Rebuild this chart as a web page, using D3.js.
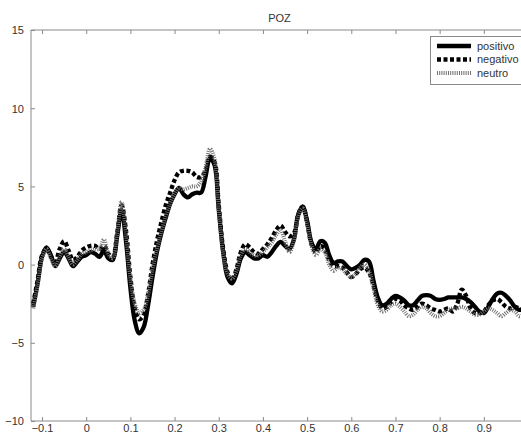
<!DOCTYPE html>
<html><head><meta charset="utf-8">
<script src="https://cdn.jsdelivr.net/npm/d3@7"></script>
<style>body{margin:0;background:#fff}svg{display:block}</style>
</head><body><svg id="c" width="521" height="436"></svg>
<script>
const title = "POZ";
const seriesNames = ["positivo", "negativo", "neutro"];
const xTicks = [-0.1, 0, 0.1, 0.2, 0.3, 0.4, 0.5, 0.6, 0.7, 0.8, 0.9];
const yTicks = [-10, -5, 0, 5, 10, 15];
const times = [-0.12,-0.11,-0.10,-0.09,-0.08,-0.07,-0.06,-0.05,-0.04,-0.03,-0.02,-0.01,
 0.00,0.01,0.02,0.03,0.04,0.05,0.06,0.07,0.08,0.09,0.10,0.11,0.12,0.13,0.14,0.15,0.16,0.17,0.18,0.19,
 0.20,0.21,0.22,0.23,0.24,0.25,0.26,0.27,0.28,0.29,0.30,0.31,0.32,0.33,0.34,0.35,0.36,0.37,0.38,0.39,
 0.40,0.41,0.42,0.43,0.44,0.45,0.46,0.47,0.48,0.49,0.50,0.51,0.52,0.53,0.54,0.55,0.56,0.57,0.58,0.59,
 0.60,0.61,0.62,0.63,0.64,0.65,0.66,0.67,0.68,0.69,0.70,0.71,0.72,0.73,0.74,0.75,0.76,0.77,0.78,0.79,
 0.80,0.81,0.82,0.83,0.84,0.85,0.86,0.87,0.88,0.89,0.90,0.91,0.92,0.93,0.94,0.95,0.96,0.97,0.98,0.99];
const positivo = [-2.7,-1.2,0.5,1.1,0.6,-0.1,0.4,0.8,0.4,-0.1,0.2,0.5,
 0.6,0.8,0.7,0.5,0.9,0.4,0.3,1.8,3.5,1.5,-1.5,-3.6,-4.4,-4.0,-2.6,-0.8,0.8,2.0,3.0,3.9,
 4.5,4.9,4.5,4.3,4.5,4.6,4.6,5.6,6.8,6.4,3.5,0.8,-0.8,-1.2,-0.6,0.4,0.8,0.6,0.4,0.4,
 0.6,0.5,0.8,1.2,1.45,1.2,1.0,1.6,3.2,3.7,2.8,1.4,1.0,1.5,1.4,0.6,0.1,0.2,0.2,-0.1,
 -0.3,-0.2,0.0,0.3,0.2,-1.0,-2.1,-2.6,-2.5,-2.2,-2.0,-2.1,-2.3,-2.6,-2.6,-2.3,-2.0,-1.95,-2.0,-2.2,
 -2.25,-2.2,-2.1,-2.1,-2.1,-2.1,-2.2,-2.4,-2.7,-3.0,-3.1,-2.7,-2.2,-1.85,-1.8,-2.0,-2.3,-2.7,-2.9,-2.8];
const negativo = [-2.5,-1.0,0.6,1.0,0.5,0.2,1.0,1.5,0.9,0.3,0.5,0.9,
 1.1,1.2,1.2,1.0,1.2,0.7,0.5,2.0,3.8,2.2,-0.8,-2.8,-3.5,-3.2,-1.9,0.0,1.5,2.7,3.8,4.6,
 5.4,5.9,6.0,6.0,5.9,5.6,5.6,6.0,6.9,6.6,3.8,1.0,-0.5,-1.0,-0.3,0.8,1.3,1.1,0.8,0.7,
 1.0,1.3,1.7,2.2,2.5,2.1,1.8,2.0,3.2,3.7,2.7,1.3,0.8,1.2,1.0,0.3,-0.1,-0.1,-0.2,-0.5,
 -0.8,-0.6,-0.3,-0.2,-0.5,-1.3,-2.3,-2.8,-2.7,-2.4,-2.2,-2.3,-2.6,-2.8,-2.9,-2.7,-2.5,-2.6,-2.8,-2.9,
 -3.0,-2.9,-2.8,-3.0,-2.5,-1.6,-2.0,-2.8,-3.1,-3.1,-3.0,-2.6,-2.3,-2.2,-2.4,-2.7,-2.8,-2.7,-2.8,-3.0];
const neutro = [-2.8,-1.3,0.4,1.0,0.4,-0.1,0.5,1.0,0.5,0.0,0.3,0.7,
 0.8,0.9,1.0,1.0,1.6,0.7,0.4,2.0,4.0,2.0,-0.9,-2.5,-3.1,-2.9,-1.9,-0.3,1.0,2.1,3.1,3.9,
 4.5,4.9,4.8,4.9,5.0,5.0,5.3,6.2,7.4,6.8,3.6,0.7,-0.6,-0.9,-0.4,0.6,1.0,0.8,0.6,0.6,
 0.8,1.1,1.4,1.9,2.2,1.5,0.8,1.5,3.1,3.6,2.6,1.2,0.6,1.0,0.8,0.0,-0.4,-0.2,-0.3,-0.6,
 -0.8,-0.6,-0.2,0.0,-0.4,-1.5,-2.6,-3.0,-2.9,-2.6,-2.5,-2.7,-3.0,-3.3,-3.2,-2.9,-2.7,-2.8,-3.1,-3.3,
 -3.3,-3.1,-2.9,-2.8,-2.8,-2.7,-2.8,-3.0,-3.2,-3.2,-3.0,-2.8,-2.9,-3.1,-3.3,-3.1,-2.9,-3.0,-3.3,-3.2];

const svg = d3.select("#c");
const L = 31, R = 528, T = 30, B = 421;
const x = d3.scaleLinear().domain([-0.125, 1.0]).range([L, R]);
const y = d3.scaleLinear().domain([-10, 15]).range([B, T]);
const axisCol = "#8a8a8a", textCol = "#333";
const font = "Arial, 'Liberation Sans', sans-serif";

// Title
svg.append("text").attr("x", (L + R) / 2).attr("y", 22).attr("text-anchor", "middle")
  .attr("font-family", font).attr("font-size", 11).attr("fill", textCol).text(title);

// Axes
const gB = svg.append("g").attr("transform", `translate(0,${B})`)
  .call(d3.axisBottom(x).tickValues(xTicks).tickSize(-4).tickPadding(4).tickFormat(d3.format("")));
const gT = svg.append("g").attr("transform", `translate(0,${T})`)
  .call(d3.axisTop(x).tickValues(xTicks).tickSize(-4).tickFormat(""));
const gL = svg.append("g").attr("transform", `translate(${L},0)`)
  .call(d3.axisLeft(y).tickValues(yTicks).tickSize(-4).tickPadding(7));
[gB, gT, gL].forEach(g => {
  g.select(".domain").attr("stroke", axisCol).attr("stroke-width", 1);
  g.selectAll(".tick line").attr("stroke", axisCol);
  g.selectAll(".tick text").attr("fill", textCol).attr("font-family", font).attr("font-size", 11);
});
gB.select(".domain").attr("d", `M${L},0H${R}`);
gT.select(".domain").attr("d", `M${L},0H${R}`);
gL.select(".domain").attr("d", `M0,${T}V${B}`);
gL.selectAll(".tick text").attr("dy", "0.35em");
gB.selectAll(".tick text").attr("dy", "0.6em");

// Lines
const styles = [
  {data: positivo, stroke: "#000", width: 4.3, dash: null},
  {data: negativo, stroke: "#000", width: 4.3, dash: "4,2.5"},
  {data: neutro, stroke: "#707070", width: 4, dash: "1,1.2"}
];
const line = d3.line().x(d => x(d[0])).y(d => y(d[1])).curve(d3.curveCatmullRom);
svg.append("clipPath").attr("id", "pc").append("rect")
  .attr("x", L).attr("y", T).attr("width", R - L).attr("height", B - T);
styles.forEach(s => {
  svg.append("path").attr("clip-path", "url(#pc)")
    .attr("d", line(times.map((t, i) => [t, s.data[i]])))
    .attr("fill", "none").attr("stroke", s.stroke).attr("stroke-width", s.width)
    .attr("stroke-dasharray", s.dash).attr("stroke-linejoin", "round");
});

// Legend
const lg = svg.append("g");
lg.append("rect").attr("x", 430.5).attr("y", 36.5).attr("width", 100).attr("height", 48)
  .attr("fill", "#fff").attr("stroke", axisCol);
styles.forEach((s, i) => {
  const yy = 46 + i * 13.5;
  lg.append("line").attr("x1", 437).attr("x2", 471).attr("y1", yy).attr("y2", yy)
    .attr("stroke", s.stroke).attr("stroke-width", s.width).attr("stroke-dasharray", s.dash);
  lg.append("text").attr("x", 477).attr("y", yy).attr("dy", "0.35em")
    .attr("font-family", font).attr("font-size", 11).attr("fill", textCol).text(seriesNames[i]);
});
</script></body></html>
